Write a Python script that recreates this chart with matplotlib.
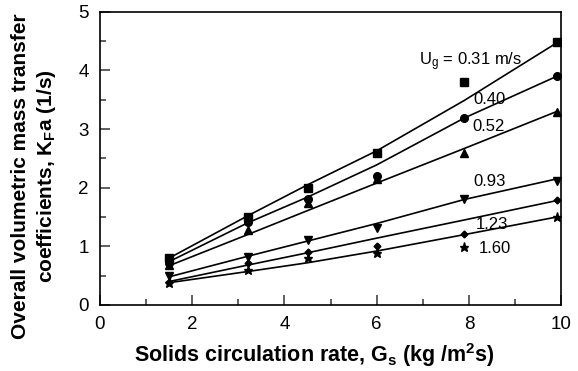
import matplotlib
matplotlib.use("Agg")
import matplotlib.pyplot as plt
from matplotlib.ticker import MultipleLocator

plt.rcParams["font.family"] = ["Liberation Sans", "DejaVu Sans"]
plt.rcParams["mathtext.fontset"] = "custom"
plt.rcParams["mathtext.rm"] = "Liberation Sans"
plt.rcParams["mathtext.it"] = "Liberation Sans"
plt.rcParams["mathtext.bf"] = "Liberation Sans:bold"

# solids circulation rate, Gs (kg/m2 s)
gs = [1.5, 3.2, 4.5, 6.0, 7.9, 9.9]

ug_labels = ["U$_g$ = 0.31 m/s", "0.40", "0.52", "0.93", "1.23", "1.60"]
markers = ["s", "o", "^", "v", "D", "*"]

# measured KFa (1/s)
kfa_031 = [0.80, 1.50, 2.00, 2.60, 3.80, 4.48]
kfa_040 = [0.72, 1.42, 1.80, 2.20, 3.19, 3.90]
kfa_052 = [0.68, 1.28, 1.74, 2.15, 2.60, 3.30]
kfa_093 = [0.50, 0.81, 1.10, 1.31, 1.80, 2.12]
kfa_123 = [0.40, 0.72, 0.91, 1.01, 1.21, 1.79]
kfa_160 = [0.38, 0.60, 0.80, 0.88, 0.99, 1.50]

# correlation curves read at the same Gs
fit_031 = [0.80, 1.52, 2.05, 2.63, 3.49, 4.47]
fit_040 = [0.74, 1.40, 1.84, 2.39, 3.19, 3.90]
fit_052 = [0.67, 1.20, 1.61, 2.08, 2.67, 3.30]
fit_093 = [0.48, 0.83, 1.09, 1.39, 1.80, 2.15]
fit_123 = [0.40, 0.68, 0.89, 1.14, 1.45, 1.78]
fit_160 = [0.38, 0.57, 0.72, 0.92, 1.20, 1.50]

# label anchor (Gs, KFa)
label_x = [8.03, 8.44, 8.42, 8.44, 8.50, 8.57]
label_y = [4.15, 3.50, 3.05, 2.10, 1.37, 0.96]

measured = [kfa_031, kfa_040, kfa_052, kfa_093, kfa_123, kfa_160]
fits = [fit_031, fit_040, fit_052, fit_093, fit_123, fit_160]
marker_sizes = [5.5, 5.5, 5.5, 5.5, 3.5, 6.5]

fig = plt.figure(figsize=(5.78, 3.71), dpi=100)
ax = fig.add_axes([0.173, 0.178, 0.798, 0.790])

for kfa, fit, m, ms in zip(measured, fits, markers, marker_sizes):
    ax.plot(gs, fit, color="black", linewidth=1.2)
    ax.plot(gs, kfa, linestyle="none", marker=m, markersize=ms,
            color="black")

for text, tx, ty in zip(ug_labels, label_x, label_y):
    ax.text(tx, ty, text, fontsize=12, ha="center", va="center")

ax.set_xlim(0, 10)
ax.set_ylim(0, 5)
ax.xaxis.set_major_locator(MultipleLocator(2))
ax.xaxis.set_minor_locator(MultipleLocator(1))
ax.yaxis.set_major_locator(MultipleLocator(1))
ax.yaxis.set_minor_locator(MultipleLocator(0.5))
ax.tick_params(which="both", direction="in", top=False, right=False,
               labelsize=13.5, width=1.2, color="#444444")
ax.tick_params(which="major", length=7, pad=8)
ax.tick_params(which="minor", length=4)
for spine in ax.spines.values():
    spine.set_linewidth(1.2)

ax.set_xlabel("Solids circulation rate, G$_\\mathbf{s}$ (kg /m$^\\mathbf{2}$s)",
              fontsize=15.5, fontweight="bold")
ax.xaxis.set_label_coords(0.466, -0.125)
ax.set_ylabel("Overall volumetric mass transfer\ncoefficients, K$_\\mathbf{F}$a (1/s)",
              fontsize=15, fontweight="bold", linespacing=1.25)
ax.yaxis.set_label_coords(-0.092, 0.44)

fig.savefig("out.png", dpi=100)
